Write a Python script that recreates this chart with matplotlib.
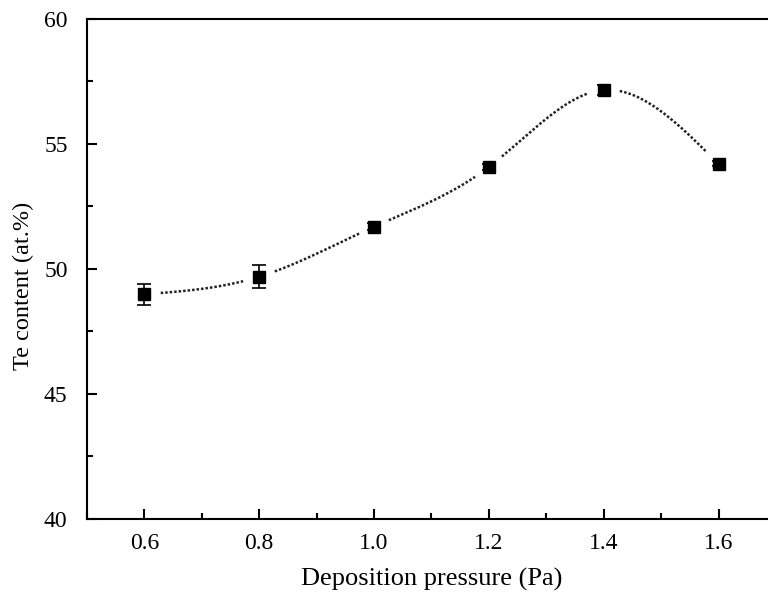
import numpy as np
import matplotlib
matplotlib.use("Agg")
from matplotlib import pyplot as plt
from matplotlib.ticker import MultipleLocator

# Data
pressure = [0.6, 0.8, 1.0, 1.2, 1.4, 1.6]
te_content = [48.99, 49.69, 51.69, 54.08, 57.16, 54.2]
te_err = [0.42, 0.45, 0.15, 0.12, 0.2, 0.1]


def NaturalSpline(x, y, xs):
    """ Natural cubic spline through (x, y), evaluated at xs """
    x = np.asarray(x, float)
    y = np.asarray(y, float)
    n = len(x)
    h = np.diff(x)
    A = np.zeros((n, n))
    b = np.zeros(n)
    A[0, 0] = A[-1, -1] = 1
    for i in range(1, n - 1):
        A[i, i - 1] = h[i - 1]
        A[i, i] = 2 * (h[i - 1] + h[i])
        A[i, i + 1] = h[i]
        b[i] = 6 * ((y[i + 1] - y[i]) / h[i] - (y[i] - y[i - 1]) / h[i - 1])
    m = np.linalg.solve(A, b)
    idx = np.clip(np.searchsorted(x, xs) - 1, 0, n - 2)
    t = xs - x[idx]
    hi = h[idx]
    a = (m[idx + 1] - m[idx]) / (6 * hi)
    c = (y[idx + 1] - y[idx]) / hi - hi * (2 * m[idx] + m[idx + 1]) / 6
    return y[idx] + c * t + m[idx] / 2 * t**2 + a * t**3


plt.rcParams['font.family'] = ['Liberation Serif', 'DejaVu Serif']

fig = plt.figure(figsize=(7.68, 5.94), dpi=100)
ax = fig.add_axes([0.1133, 0.1263, 0.897, 0.8418])

# Smooth curve, broken around the markers
xs = np.linspace(pressure[0], pressure[-1], 600)
ys = NaturalSpline(pressure, te_content, xs)
near = np.zeros_like(xs, dtype=bool)
for px, py in zip(pressure, te_content):
    d = np.hypot((xs - px) * 574, (ys - py) * 25)
    near |= d < 16
ys_masked = np.where(near, np.nan, ys)
ax.plot(xs, ys_masked, color='#222222', linestyle=(0, (1, 0.8)), linewidth=1.8)

ax.errorbar(pressure, te_content, yerr=te_err, fmt='s', color='black',
            markersize=8.5, capsize=5, elinewidth=1.2, capthick=1.2)

ax.set_xlim(0.5, 1.7)
ax.set_ylim(40, 60)
ax.xaxis.set_major_locator(MultipleLocator(0.2))
ax.xaxis.set_minor_locator(MultipleLocator(0.1))
ax.yaxis.set_major_locator(MultipleLocator(5))
ax.yaxis.set_minor_locator(MultipleLocator(2.5))
ax.set_xticks([0.6, 0.8, 1.0, 1.2, 1.4, 1.6])
ax.set_xticklabels(['0.6', '0.8', '1.0', '1.2', '1.4', '1.6'])

ax.tick_params(which='both', direction='in', width=1.5, labelsize=17)
ax.tick_params(which='major', length=7)
ax.tick_params(axis='x', which='major', pad=10)
ax.tick_params(axis='y', which='major', pad=14)
ax.tick_params(which='minor', length=4)
ax.tick_params(top=False, right=False, which='both')
for s in ax.spines.values():
    s.set_linewidth(1.5)

ax.set_xlabel('Deposition pressure (Pa)', fontsize=19, labelpad=10)
ax.set_ylabel('Te content (at.%)', fontsize=17.5)
ax.yaxis.set_label_coords(-0.077, 0.466)

fig.savefig('out.png', dpi=100)
